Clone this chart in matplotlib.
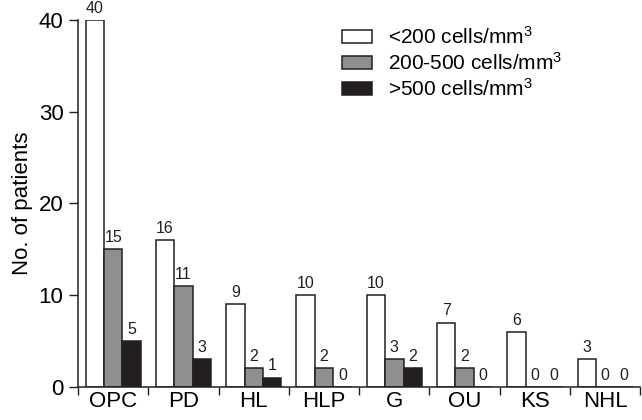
import matplotlib
matplotlib.use("Agg")
import matplotlib.pyplot as plt
import numpy as np

categories = ["OPC", "PD", "HL", "HLP", "G", "OU", "KS", "NHL"]
low = [40, 16, 9, 10, 10, 7, 6, 3]
mid = [15, 11, 2, 2, 3, 2, 0, 0]
high = [5, 3, 1, 0, 2, 0, 0, 0]
series_labels = ["<200 cells/mm$^{3}$", "200-500 cells/mm$^{3}$", ">500 cells/mm$^{3}$"]
y_ticks = [0, 10, 20, 30, 40]

plt.rcParams["font.family"] = ["Liberation Sans", "DejaVu Sans"]
plt.rcParams["mathtext.fontset"] = "custom"
plt.rcParams["mathtext.rm"] = "Liberation Sans"
plt.rcParams["mathtext.it"] = "Liberation Sans"

fig = plt.figure(figsize=(6.42, 4.20), dpi=100)
ax = fig.add_axes([0.1215, 0.079, 0.876, 0.873])

edge = "#231f20"
colors = ["white", "#8f8f8f", "#231f20"]
bw = 0.262
x = np.arange(len(categories))
offsets = [-bw, 0, bw]
for vals, off, col, lab in zip([low, mid, high], offsets, colors, series_labels):
    ax.bar(x + off, vals, width=bw, color=col, edgecolor=edge, linewidth=1.1, label=lab)
    for xi, v in zip(x + off, vals):
        ax.annotate(str(v), (xi, v), xytext=(0, 3), textcoords="offset points",
                    ha="center", va="bottom", fontsize=11.5, color="#231f20",
                    annotation_clip=False)

ax.set_xlim(-0.5, len(categories) - 0.5)
ax.set_ylim(0, 40)
ax.set_yticks(y_ticks)
ax.set_xticks(np.arange(-0.5, len(categories)), minor=False)
ax.set_xticklabels([])
ax.set_xticks(x, minor=True)
ax.set_xticklabels(categories, minor=True, fontsize=16)
ax.tick_params(axis="x", which="minor", length=0, pad=3)
ax.tick_params(axis="x", which="major", length=6, width=1, direction="out", color=edge)
ax.tick_params(axis="y", length=6.5, width=1, direction="out", labelsize=16, color=edge, pad=4)
for s in ["top", "right"]:
    ax.spines[s].set_visible(False)
for s in ["left", "bottom"]:
    ax.spines[s].set_linewidth(1.1)
    ax.spines[s].set_color(edge)
ax.set_ylabel("No. of patients", fontsize=16, labelpad=4)

leg = ax.legend(loc="upper left", bbox_to_anchor=(342 / 642, 1 - 26 / 420),
                bbox_transform=fig.transFigure, frameon=False,
                fontsize=15, handlelength=1.45, handleheight=0.55,
                handletextpad=0.75, labelspacing=0.2, borderaxespad=0, borderpad=0)

fig.savefig("out.png", dpi=100)
